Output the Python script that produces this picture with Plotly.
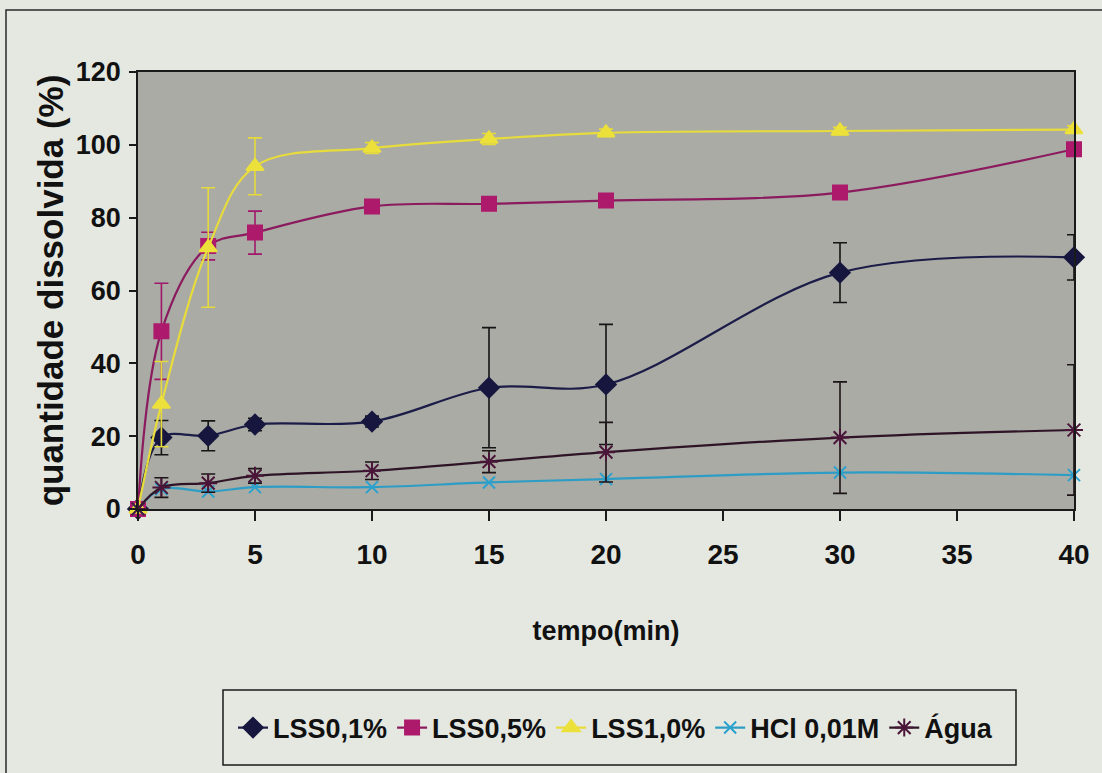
import plotly.graph_objects as go

# Tempo de coleta (min)
tempo = [0, 1, 3, 5, 10, 15, 20, 30, 40]

# Quantidade dissolvida (%) e desvio padrão de cada meio
lss01 = [0, 19.6, 20.1, 23.2, 24.0, 33.3, 34.2, 64.9, 69.1]
lss01_dp = [0, 4.7, 4.1, 1.7, 1.5, 16.5, 16.5, 8.2, 6.2]

lss05 = [0, 48.8, 72.2, 75.9, 83.1, 83.8, 84.7, 86.9, 98.8]
lss05_dp = [0, 13.2, 3.8, 5.9, 1.5, 1.2, 1.2, 1.2, 1.5]

lss10 = [0, 28.8, 71.8, 94.1, 99.1, 101.6, 103.3, 103.8, 104.2]
lss10_dp = [0, 11.7, 16.4, 7.8, 1.5, 1.5, 1.0, 1.0, 1.0]

hcl = [0, 5.5, 4.8, 6.0, 6.0, 7.3, 8.2, 10.0, 9.3]

agua = [0, 5.9, 7.1, 9.1, 10.5, 13.0, 15.6, 19.6, 21.7]
agua_dp = [0, 2.7, 2.5, 2.0, 2.4, 3.0, 8.2, 15.3, 17.9]

nomes = ["LSS0,1%", "LSS0,5%", "LSS1,0%", "HCl 0,01M", "Água"]

PAPER = "#e5e8e1"
PLOT = "#a9aba4"
FONTE = "Liberation Sans, Arial, sans-serif"

# área de plotagem em pixels (esquerda, direita, topo, base)
L, R, T, B = 138, 1074, 72, 509


def px_x(p):
    return (p - L) / (R - L)


def px_y(p):
    return (B - p) / (B - T)


series = [
    dict(y=lss01, dp=lss01_dp, line="#1c1c48", marker="#16163e", symbol="diamond",
         size=15, err="#151515"),
    dict(y=lss05, dp=lss05_dp, line="#8c1a5e", marker="#ad1a6c", symbol="square",
         size=14, err="#a0186a"),
    dict(y=lss10, dp=lss10_dp, line="#e8dc3c", marker="#ece03a", symbol="triangle-up",
         size=15, err="#e6da3a"),
    dict(y=hcl, dp=None, line="#2d9dc6", marker="#2aa2d0", symbol="x-thin-open",
         size=12, err=None),
    dict(y=agua, dp=agua_dp, line="#2e1426", marker="#4a1538", symbol="asterisk-open",
         size=15, err="#1e1418"),
]

fig = go.Figure()
for nome, s in zip(nomes, series):
    erro = None
    if s["dp"] is not None:
        erro = dict(type="data", array=s["dp"], visible=True, color=s["err"],
                    thickness=1.6, width=7)
    fig.add_trace(go.Scatter(
        x=tempo, y=s["y"], name=nome, mode="lines+markers",
        line=dict(color=s["line"], width=2.2, shape="spline", smoothing=1.0),
        marker=dict(symbol=s["symbol"], size=s["size"], color=s["marker"],
                    line=dict(color=s["marker"], width=2)),
        error_y=erro, cliponaxis=False,
    ))

fig.update_layout(
    width=1102, height=773,
    paper_bgcolor=PAPER, plot_bgcolor=PLOT,
    margin=dict(l=L, r=1102 - R, t=T, b=773 - B),
    font=dict(family=FONTE, color="#111111"),
    showlegend=True,
    legend=dict(
        orientation="h", xref="container", yref="container",
        x=233 / 1102, y=1 - 728 / 773, xanchor="left", yanchor="middle",
        bgcolor="rgba(0,0,0,0)", borderwidth=0,
        font=dict(family=FONTE, size=27, color="#111111", weight="bold"),
        itemwidth=30, tracegroupgap=0,
    ),
    shapes=[
        # moldura do gráfico
        dict(type="rect", xref="paper", yref="paper",
             x0=px_x(6), x1=px_x(1112), y0=px_y(800), y1=px_y(10),
             line=dict(color="#2a2a2a", width=1.5), fillcolor="rgba(0,0,0,0)",
             layer="below"),
        # caixa da legenda
        dict(type="rect", xref="paper", yref="paper",
             x0=px_x(223), x1=px_x(1016), y0=px_y(765), y1=px_y(690),
             line=dict(color="#1a1a1a", width=1.5), fillcolor=PAPER,
             layer="below"),
    ],
)

fig.update_xaxes(
    range=[0, 40], dtick=5, tick0=0,
    showgrid=False, zeroline=False,
    showline=True, linecolor="#1a1a1a", linewidth=1.5, mirror=True,
    ticks="outside", ticklen=10, tickwidth=1.5, tickcolor="#1a1a1a",
    tickfont=dict(family=FONTE, size=28, color="#111111", weight="bold"),
    ticklabelstandoff=10,
    title=dict(text="tempo(min)", standoff=52,
               font=dict(family=FONTE, size=27, color="#111111", weight="bold")),
)
fig.update_yaxes(
    range=[0, 120], dtick=20, tick0=0,
    showgrid=False, zeroline=False,
    showline=True, linecolor="#1a1a1a", linewidth=1.5, mirror=True,
    ticks="outside", ticklen=7, tickwidth=1.5, tickcolor="#1a1a1a",
    tickfont=dict(family=FONTE, size=27, color="#111111", weight="bold"),
    ticklabelstandoff=3,
    title=dict(text="quantidade dissolvida (%)", standoff=2,
               font=dict(family=FONTE, size=35, color="#111111", weight="bold")),
)

fig.write_html("out.html")
